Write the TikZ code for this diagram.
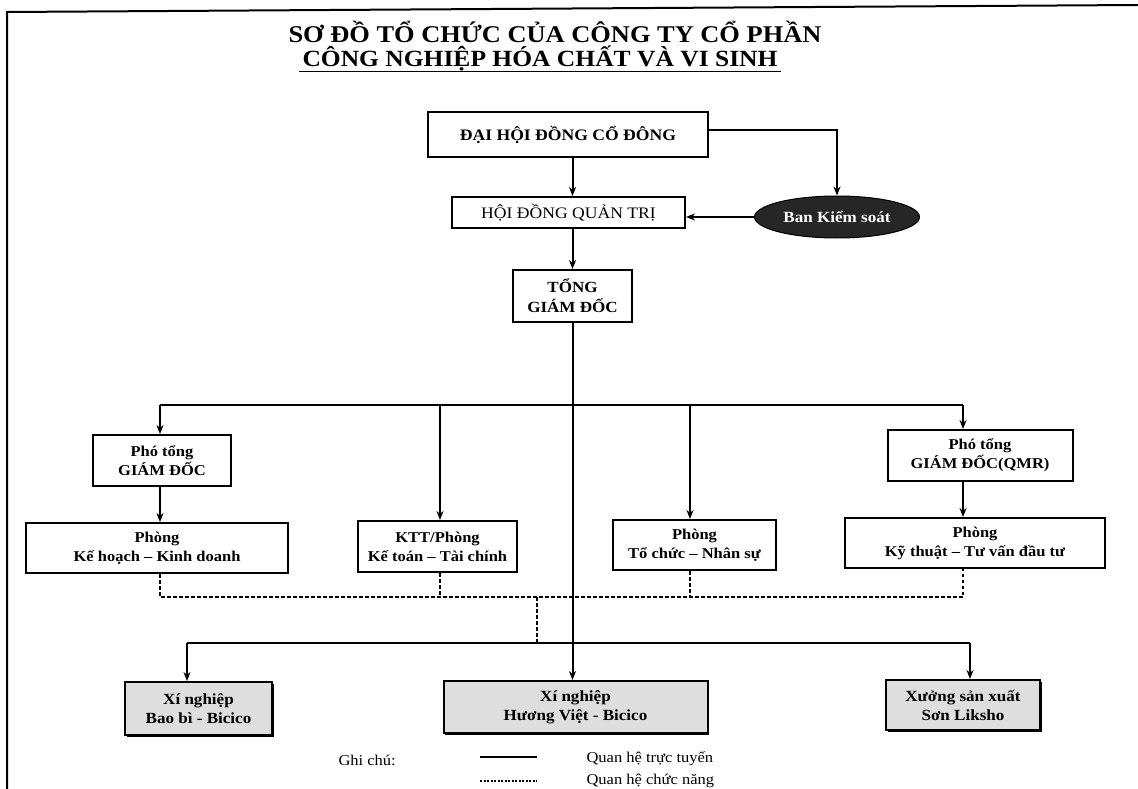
\documentclass[tikz,border=0pt]{standalone}
\usepackage{fontspec}
\setmainfont{Liberation Serif}[FakeStretch=1.1]
\usetikzlibrary{shapes.geometric,arrows.meta,calc,shadows}
\begin{document}
\begin{tikzpicture}[x=1pt,y=-1pt,
  box/.style={draw, line width=2pt, align=center, inner sep=0pt, fill=white},
  ln/.style={line width=2pt},
  arr/.style={line width=2pt, -{Stealth[length=9pt,width=7pt]}},
  dsh/.style={line width=2pt, dash pattern=on 3.5pt off 2.5pt},
  lbl/.style={font=\fontsize{15}{19}\selectfont\bfseries},
  txt/.style={font=\fontsize{15}{18}\selectfont},
  xbox/.style={draw, line width=2pt, align=center, inner sep=0pt, fill=black!13,
    font=\fontsize{15.5}{19}\selectfont\bfseries,
    drop shadow={shadow xshift=1.5pt, shadow yshift=-2pt, fill=black, opacity=1}},
  ]
\useasboundingbox (0,0) rectangle (1138,789);
% frame
\draw[line width=2pt] (7,789) -- (7,12) -- (1138,5);
% title
\node[anchor=base, font=\fontsize{24}{28}\selectfont\bfseries] (t1) at (555,43) {SƠ ĐỒ TỔ CHỨC CỦA CÔNG TY CỔ PHẦN};
\node[anchor=base, font=\fontsize{23.2}{28}\selectfont\bfseries] (t2) at (540,67) {CÔNG NGHIỆP HÓA CHẤT VÀ VI SINH};
\draw[line width=1.8pt] ($(t2.base west)+(0,4.5)$) -- ($(t2.base east)+(0,4.5)$);
% top
\node[box, minimum width=280pt, minimum height=45pt, font=\fontsize{16}{18}\selectfont\bfseries] (dhcd) at (568,134.5) {ĐẠI HỘI ĐỒNG CỔ ĐÔNG};
\node[box, minimum width=233pt, minimum height=31pt, font=\fontsize{16}{18}\selectfont] (hdqt) at (568.5,212.5) {HỘI ĐỒNG QUẢN TRỊ};
\node[ellipse, draw, line width=1pt, fill=black!85, text=white, minimum width=165pt, minimum height=42pt, inner sep=0pt, font=\fontsize{15.5}{17}\selectfont\bfseries] (bks) at (837,217) {Ban Kiểm soát};
\node[box, minimum width=119pt, minimum height=52pt, font=\fontsize{15.5}{20}\selectfont\bfseries] (tgd) at (572.5,296) {TỔNG\\GIÁM ĐỐC};
% level 2
\node[box, minimum width=138pt, minimum height=51pt, lbl] (pt1) at (162,460.5) {Phó tổng\\GIÁM ĐỐC};
\node[box, minimum width=185pt, minimum height=51pt, lbl] (pt2) at (980,455.5) {Phó tổng\\GIÁM ĐỐC(QMR)};
\node[box, minimum width=262pt, minimum height=50pt, lbl] (pkh) at (157,548) {Phòng\\Kế hoạch -- Kinh doanh};
\node[box, minimum width=159pt, minimum height=51pt, lbl] (ktt) at (437.5,546.5) {KTT/Phòng\\Kế toán -- Tài chính};
\node[box, minimum width=163pt, minimum height=50pt, lbl] (ptc) at (694.5,545) {Phòng\\Tổ chức -- Nhân sự};
\node[box, minimum width=260pt, minimum height=50pt, lbl] (pkt) at (975,543) {Phòng\\Kỹ thuật -- Tư vấn đầu tư};
% level 3
\node[xbox, minimum width=147pt, minimum height=53pt] (xn1) at (198.5,708.5) {Xí nghiệp\\Bao bì - Bicico};
\node[xbox, minimum width=264pt, minimum height=52pt] (xn2) at (575.5,707) {Xí nghiệp\\Hương Việt - Bicico};
\node[xbox, minimum width=154pt, minimum height=50pt] (xn3) at (963,705) {Xưởng sản xuất\\Sơn Liksho};
% coordinates
\coordinate (busA) at (0,405);
\coordinate (busB) at (0,643);
\coordinate (dashY) at (0,597);
\coordinate (xL) at (160,0);
\coordinate (xK) at (440,0);
\coordinate (xT) at (690,0);
\coordinate (xR) at (963,0);
\coordinate (xD) at (537,0);
\coordinate (x1) at (187,0);
\coordinate (x3) at (970,0);
% connectors top
\draw[arr] (dhcd.east |- 0,130) -| (bks.north);
\draw[arr] (dhcd.south -| tgd.north) -- (hdqt.north -| tgd.north);
\draw[arr] (bks.west) -- (hdqt.east |- bks.west);
\draw[arr] (hdqt.south -| tgd.north) -- (tgd.north);
\draw[arr] (tgd.south) -- (tgd.south |- xn2.north);
% bus A
\draw[ln] (xL |- busA) -- (xR |- busA);
\draw[arr] (xL |- busA) -- (xL |- pt1.north);
\draw[arr] (xK |- busA) -- (xK |- ktt.north);
\draw[arr] (xT |- busA) -- (xT |- ptc.north);
\draw[arr] (xR |- busA) -- (xR |- pt2.north);
\draw[arr] (xL |- pt1.south) -- (xL |- pkh.north);
\draw[arr] (xR |- pt2.south) -- (xR |- pkt.north);
% dashed
\draw[dsh] (xL |- pkh.south) -- (xL |- dashY) -- (xR |- dashY) -- (xR |- pkt.south);
\draw[dsh] (xK |- ktt.south) -- (xK |- dashY);
\draw[dsh] (xT |- ptc.south) -- (xT |- dashY);
\draw[dsh] (xD |- dashY) -- (xD |- busB);
% bus B
\draw[ln] (x1 |- busB) -- (x3 |- busB);
\draw[arr] (x1 |- busB) -- (x1 |- xn1.north);
\draw[arr] (x3 |- busB) -- (x3 |- xn3.north);
% legend
\node[anchor=base west, txt] (gc) at (335,765) {Ghi chú:};
\coordinate (l1a) at (480,757);
\coordinate (l1b) at (537,757);
\coordinate (l2a) at (480,781);
\coordinate (l2b) at (537,781);
\draw[ln] (l1a) -- (l1b);
\draw[line width=1.4pt, dash pattern=on 2pt off 1.5pt] (l2a) -- (l2b);
\node[anchor=base west, txt] (q1) at (583,762) {Quan hệ trực tuyến};
\node[anchor=base west, txt] (q2) at (583,784) {Quan hệ chức năng};
\end{tikzpicture}
\end{document}
